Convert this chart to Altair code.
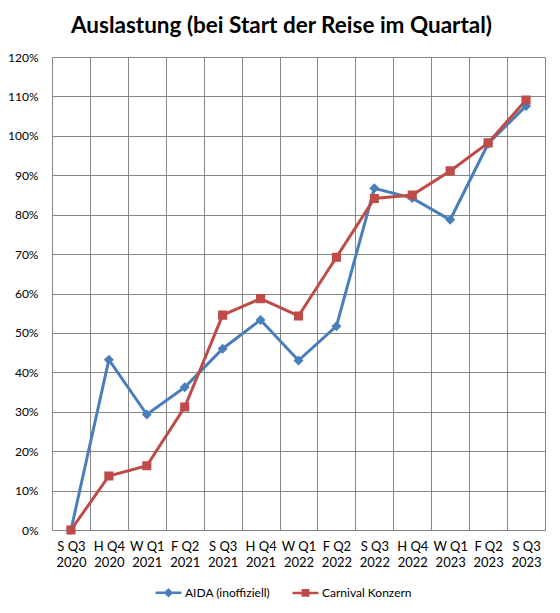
import altair as alt
import pandas as pd

categories = ["S Q3 2020", "H Q4 2020", "W Q1 2021", "F Q2 2021", "S Q3 2021",
              "H Q4 2021", "W Q1 2022", "F Q2 2022", "S Q3 2022", "H Q4 2022",
              "W Q1 2023", "F Q2 2023", "S Q3 2023"]
aida = [0.0, 43.2, 29.3, 36.2, 46.0, 53.3, 43.0, 51.7, 86.7, 84.2, 78.7, 98.0, 107.6]
carnival = [0.0, 13.7, 16.3, 31.2, 54.5, 58.7, 54.3, 69.2, 84.1, 85.0, 91.1, 98.2, 109.1]
series_names = ["AIDA (inoffiziell)", "Carnival Konzern"]
y_ticks = [0, 0.1, 0.2, 0.3, 0.4, 0.5, 0.6, 0.7, 0.8, 0.9, 1.0, 1.1, 1.2]

colors = ["#4A7EBB", "#BE4B48"]
marker_paths = [
    "M-1,0H1M0,-0.23L0.23,0L0,0.23L-0.23,0Z",
    "M-1,0H1M-0.21,-0.21H0.21V0.21H-0.21Z",
]

rows = []
for name, vals in zip(series_names, [aida, carnival]):
    for c, v in zip(categories, vals):
        rows.append({"cat": c, "v": v / 100.0, "series": name})
df = pd.DataFrame(rows)

FONT = "Lato"
GRID = "#868686"

x_enc = alt.X(
    "cat:N",
    sort=categories,
    scale=alt.Scale(type="band", domain=categories, paddingInner=0, paddingOuter=0),
    axis=alt.Axis(
        title=None, labelAngle=0, tickBand="extent", ticks=False, domain=False,
        grid=True, gridColor=GRID, gridWidth=1,
        labelExpr="[slice(datum.label, 0, 4), slice(datum.label, 5)]",
        labelFont=FONT, labelFontSize=13, labelColor="black",
        labelPadding=10, labelLineHeight=16,
    ),
)
y_enc = alt.Y(
    "v:Q",
    scale=alt.Scale(domain=[0, 1.2], nice=False, zero=True),
    axis=alt.Axis(
        title=None, values=y_ticks, format=".0%", ticks=False, domain=False,
        grid=True, gridColor=GRID, gridWidth=1,
        labelFont=FONT, labelFontSize=12, labelColor="black", labelPadding=14,
    ),
)

leg = alt.Legend(
    title=None, orient="none", legendX=102, legendY=521, direction="horizontal",
    labelFont=FONT, labelFontSize=12, labelColor="black", labelOffset=2,
    symbolSize=676, symbolStrokeWidth=2.5, columnPadding=16,
)


def series_line(i):
    return alt.Chart(df).transform_filter(
        alt.datum.series == series_names[i]
    ).mark_line(strokeWidth=3, color=colors[i]).encode(x=x_enc, y=y_enc)


points = alt.Chart(df).mark_point(filled=True, opacity=1).encode(
    x=x_enc, y=y_enc,
    fill=alt.Fill("series:N", scale=alt.Scale(domain=series_names, range=colors), legend=leg),
    stroke=alt.Stroke("series:N", scale=alt.Scale(domain=series_names, range=colors), legend=leg),
    shape=alt.Shape("series:N", scale=alt.Scale(domain=series_names, range=marker_paths), legend=leg),
    strokeWidth=alt.value(0),
    size=alt.value(1890),
)

chart = alt.layer(series_line(0), series_line(1), points).properties(
    width=493, height=473,
    title=alt.Title("Auslastung (bei Start der Reise im Quartal)", font=FONT,
                    fontSize=22.5, fontWeight="bold", color="black",
                    anchor="middle", dx=-17, offset=14),
    autosize=alt.AutoSizeParams(type="none"),
    padding={"left": 44, "top": 49, "right": 7, "bottom": 75},
).configure_view(stroke=GRID, strokeWidth=1).configure(background="white")

chart.save("out.html", embed_options={"renderer": "svg", "actions": False})
